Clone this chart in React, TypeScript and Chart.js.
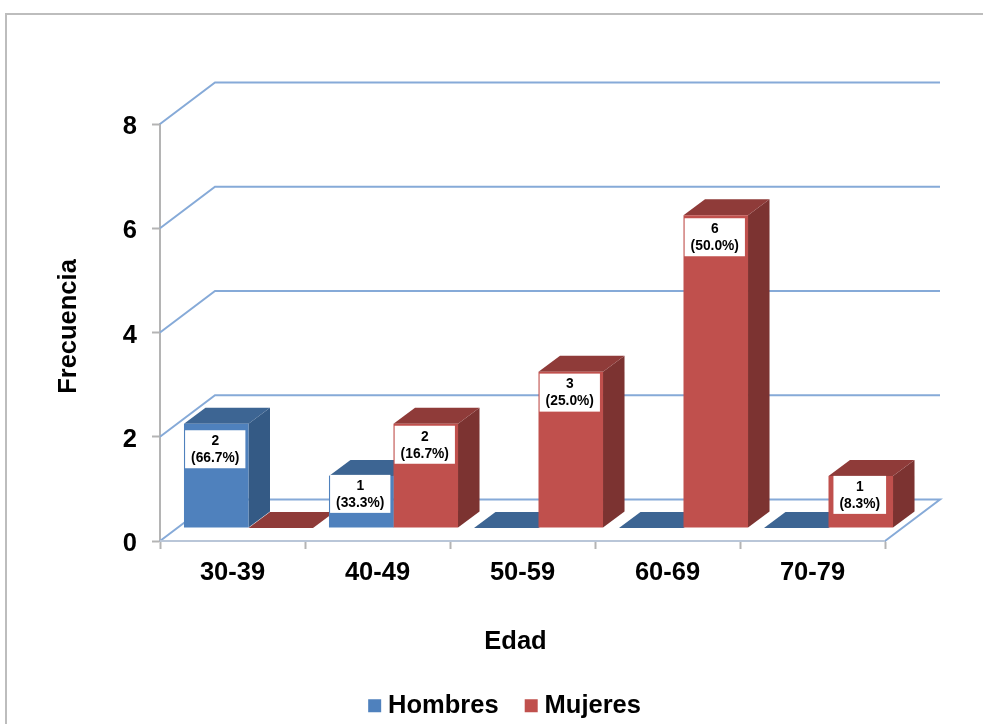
import React, { useEffect, useRef } from "react";
import { Chart, registerables } from "chart.js";

Chart.register(...registerables);

const CATEGORIES = ["30-39", "40-49", "50-59", "60-69", "70-79"];
const HOMBRES = [2, 1, 0, 0, 0];
const MUJERES = [0, 2, 3, 6, 1];
const HOMBRES_PCT = ["66.7%", "33.3%", "", "", ""];
const MUJERES_PCT = ["", "16.7%", "25.0%", "50.0%", "8.3%"];
const Y_MAX = 8;
const Y_STEP = 2;

const FONT = "'Liberation Sans', Arial, sans-serif";
const BIG = 25.5;
const WALL = { dx: 55, dy: -41.5 };
const BAR_SHIFT = { dx: 16, dy: -13 };
const DEPTH = { dx: 21.5, dy: -16 };
const GRID_BLUE = "#86aad8";
const AXIS_GREY = "#b4b4b4";

// how far below the top of its bar each white label box is centred
const LABEL_DROP = [
  [25.5, 18, 0, 0, 0],
  [0, 21, 21, 22, 19],
];

const FACES = [
  { top: "#3d6593", side: "#345a85" },
  { top: "#8f3b39", side: "#7c3331" },
];

function poly(ctx: CanvasRenderingContext2D, pts: number[][], fill: string) {
  ctx.fillStyle = fill;
  ctx.beginPath();
  pts.forEach((p, i) => (i ? ctx.lineTo(p[0], p[1]) : ctx.moveTo(p[0], p[1])));
  ctx.closePath();
  ctx.fill();
}

function shiftTitle(scale: any, dx: number, dy: number) {
  if (scale.__shifted) return;
  scale.__shifted = true;
  const orig = scale.drawTitle;
  scale.drawTitle = function (...args: any[]) {
    const ctx = this.ctx;
    ctx.save();
    ctx.translate(dx, dy);
    orig.apply(this, args);
    ctx.restore();
  };
}

const scene3d = {
  id: "scene3d",
  afterLayout(chart: any) {
    const lg = chart.legend;
    if (lg) {
      const moveX = 65;
      const targetTop = 661;
      const h = lg.bottom - lg.top;
      lg.left += moveX;
      lg.right += moveX;
      lg.top = targetTop;
      lg.bottom = targetTop + h;
    }
  },
  beforeDraw(chart: any) {
    const ctx = chart.ctx;
    ctx.save();
    ctx.strokeStyle = "#bdbdbd";
    ctx.lineWidth = 2;
    ctx.beginPath();
    ctx.moveTo(6, 730);
    ctx.lineTo(6, 14);
    ctx.lineTo(990, 14);
    ctx.stroke();
    ctx.restore();
  },
  beforeDatasetsDraw(chart: any) {
    const ctx: CanvasRenderingContext2D = chart.ctx;
    const { x, y } = chart.scales;
    const l = x.left;
    const r = x.right;
    ctx.save();
    ctx.strokeStyle = GRID_BLUE;
    ctx.lineWidth = 2;
    y.ticks.forEach((t: any) => {
      const py = y.getPixelForValue(t.value);
      ctx.beginPath();
      ctx.moveTo(l, py);
      ctx.lineTo(l + WALL.dx, py + WALL.dy);
      ctx.lineTo(r + WALL.dx, py + WALL.dy);
      if (t.value === 0) {
        ctx.lineTo(r, py);
      }
      ctx.stroke();
    });
    const y0 = y.getPixelForValue(0);
    ctx.strokeStyle = "#b9c6d8";
    ctx.beginPath();
    ctx.moveTo(l, y0);
    ctx.lineTo(r, y0);
    ctx.stroke();

    // side and top faces of every bar, before the library paints the fronts
    [0, 1].forEach((di) => {
      const meta = chart.getDatasetMeta(di);
      meta.data.forEach((bar: any) => {
        const p = bar.getProps(["x", "y", "base", "width"], true);
        const a = p.x - p.width / 2 + BAR_SHIFT.dx;
        const b = p.x + p.width / 2 + BAR_SHIFT.dx;
        const t = p.y + BAR_SHIFT.dy;
        const f = p.base + BAR_SHIFT.dy;
        if (f - t > 0.5) {
          poly(
            ctx,
            [
              [b, t],
              [b + DEPTH.dx, t + DEPTH.dy],
              [b + DEPTH.dx, f + DEPTH.dy],
              [b, f],
            ],
            FACES[di].side
          );
        }
        poly(
          ctx,
          [
            [a, t],
            [a + DEPTH.dx, t + DEPTH.dy],
            [b + DEPTH.dx, t + DEPTH.dy],
            [b, t],
          ],
          FACES[di].top
        );
      });
    });
    ctx.restore();
  },
  beforeDatasetDraw(chart: any) {
    chart.ctx.save();
    chart.ctx.translate(BAR_SHIFT.dx, BAR_SHIFT.dy);
  },
  afterDatasetDraw(chart: any) {
    chart.ctx.restore();
  },
  afterDatasetsDraw(chart: any) {
    const ctx: CanvasRenderingContext2D = chart.ctx;
    const pcts = [HOMBRES_PCT, MUJERES_PCT];
    ctx.save();
    ctx.font = `bold 13.8px ${FONT}`;
    ctx.textAlign = "center";
    ctx.textBaseline = "middle";
    [0, 1].forEach((di) => {
      const meta = chart.getDatasetMeta(di);
      const values = chart.data.datasets[di].data;
      meta.data.forEach((bar: any, i: number) => {
        if (!values[i]) return;
        const p = bar.getProps(["x", "y"], true);
        const cx = p.x + BAR_SHIFT.dx - 1;
        const cy = p.y + BAR_SHIFT.dy + LABEL_DROP[di][i];
        const line2 = `(${pcts[di][i]})`;
        const w = ctx.measureText(line2).width + 12;
        ctx.fillStyle = "#ffffff";
        ctx.fillRect(cx - w / 2, cy - 19, w, 38);
        ctx.fillStyle = "#000000";
        ctx.fillText(String(values[i]), cx, cy - 8);
        ctx.fillText(line2, cx, cy + 9);
      });
    });
    ctx.restore();
  },
};

export default function App() {
  const ref = useRef<HTMLCanvasElement | null>(null);

  useEffect(() => {
    const tickFont = { family: FONT, size: BIG, weight: "bold" as const };
    const chart = new Chart(ref.current as HTMLCanvasElement, {
      type: "bar",
      data: {
        labels: CATEGORIES,
        datasets: [
          {
            label: "Hombres",
            data: HOMBRES,
            backgroundColor: "#4f81bd",
            categoryPercentage: 0.89,
            barPercentage: 1,
            pointStyle: "rect",
          },
          {
            label: "Mujeres",
            data: MUJERES,
            backgroundColor: "#c0504d",
            categoryPercentage: 0.89,
            barPercentage: 1,
            pointStyle: "rect",
          },
        ],
      },
      options: {
        responsive: false,
        animation: false,
        layout: { padding: { top: 124, right: 98, left: 0, bottom: 0 } },
        plugins: {
          tooltip: { enabled: false },
          title: { display: false },
          legend: {
            position: "bottom",
            labels: {
              usePointStyle: true,
              boxWidth: 1.25,
              boxHeight: 13,
              padding: 32,
              color: "#000000",
              font: tickFont,
            },
          },
        },
        scales: {
          x: {
            grid: {
              display: true,
              drawOnChartArea: false,
              drawTicks: true,
              tickLength: 8,
              tickColor: AXIS_GREY,
              tickWidth: 2,
            },
            border: { display: true, color: AXIS_GREY, width: 2 },
            ticks: { color: "#000000", font: tickFont, maxRotation: 0, padding: 9 },
            title: {
              display: true,
              text: "Edad",
              color: "#000000",
              font: tickFont,
              padding: { top: 0, bottom: 0 },
            },
            afterFit(s: any) {
              const lg = s.chart.legend;
              s.height = 724 - 541 - (lg ? lg.height : 0);
              shiftTitle(s, -7, 641.7 - (724 - (lg ? lg.height : 0) - 15.3));
            },
          },
          y: {
            min: 0,
            max: Y_MAX,
            grid: {
              display: true,
              drawOnChartArea: false,
              drawTicks: true,
              tickLength: 8,
              tickColor: AXIS_GREY,
              tickWidth: 2,
            },
            border: { display: true, color: AXIS_GREY, width: 2 },
            ticks: { stepSize: Y_STEP, color: "#000000", font: tickFont, padding: 15, labelOffset: 3 },
            title: {
              display: true,
              text: "Frecuencia",
              color: "#000000",
              font: tickFont,
              padding: { top: 53.5, bottom: 0 },
            },
            afterFit(s: any) {
              s.width = 160;
              shiftTitle(s, 0, -6);
            },
          },
        },
      } as any,
      plugins: [scene3d as any],
    });
    return () => chart.destroy();
  }, []);

  return (
    <canvas
      ref={ref}
      width={983}
      height={724}
      style={{ position: "absolute", left: 0, top: 0, display: "block", background: "#ffffff" }}
    />
  );
}
